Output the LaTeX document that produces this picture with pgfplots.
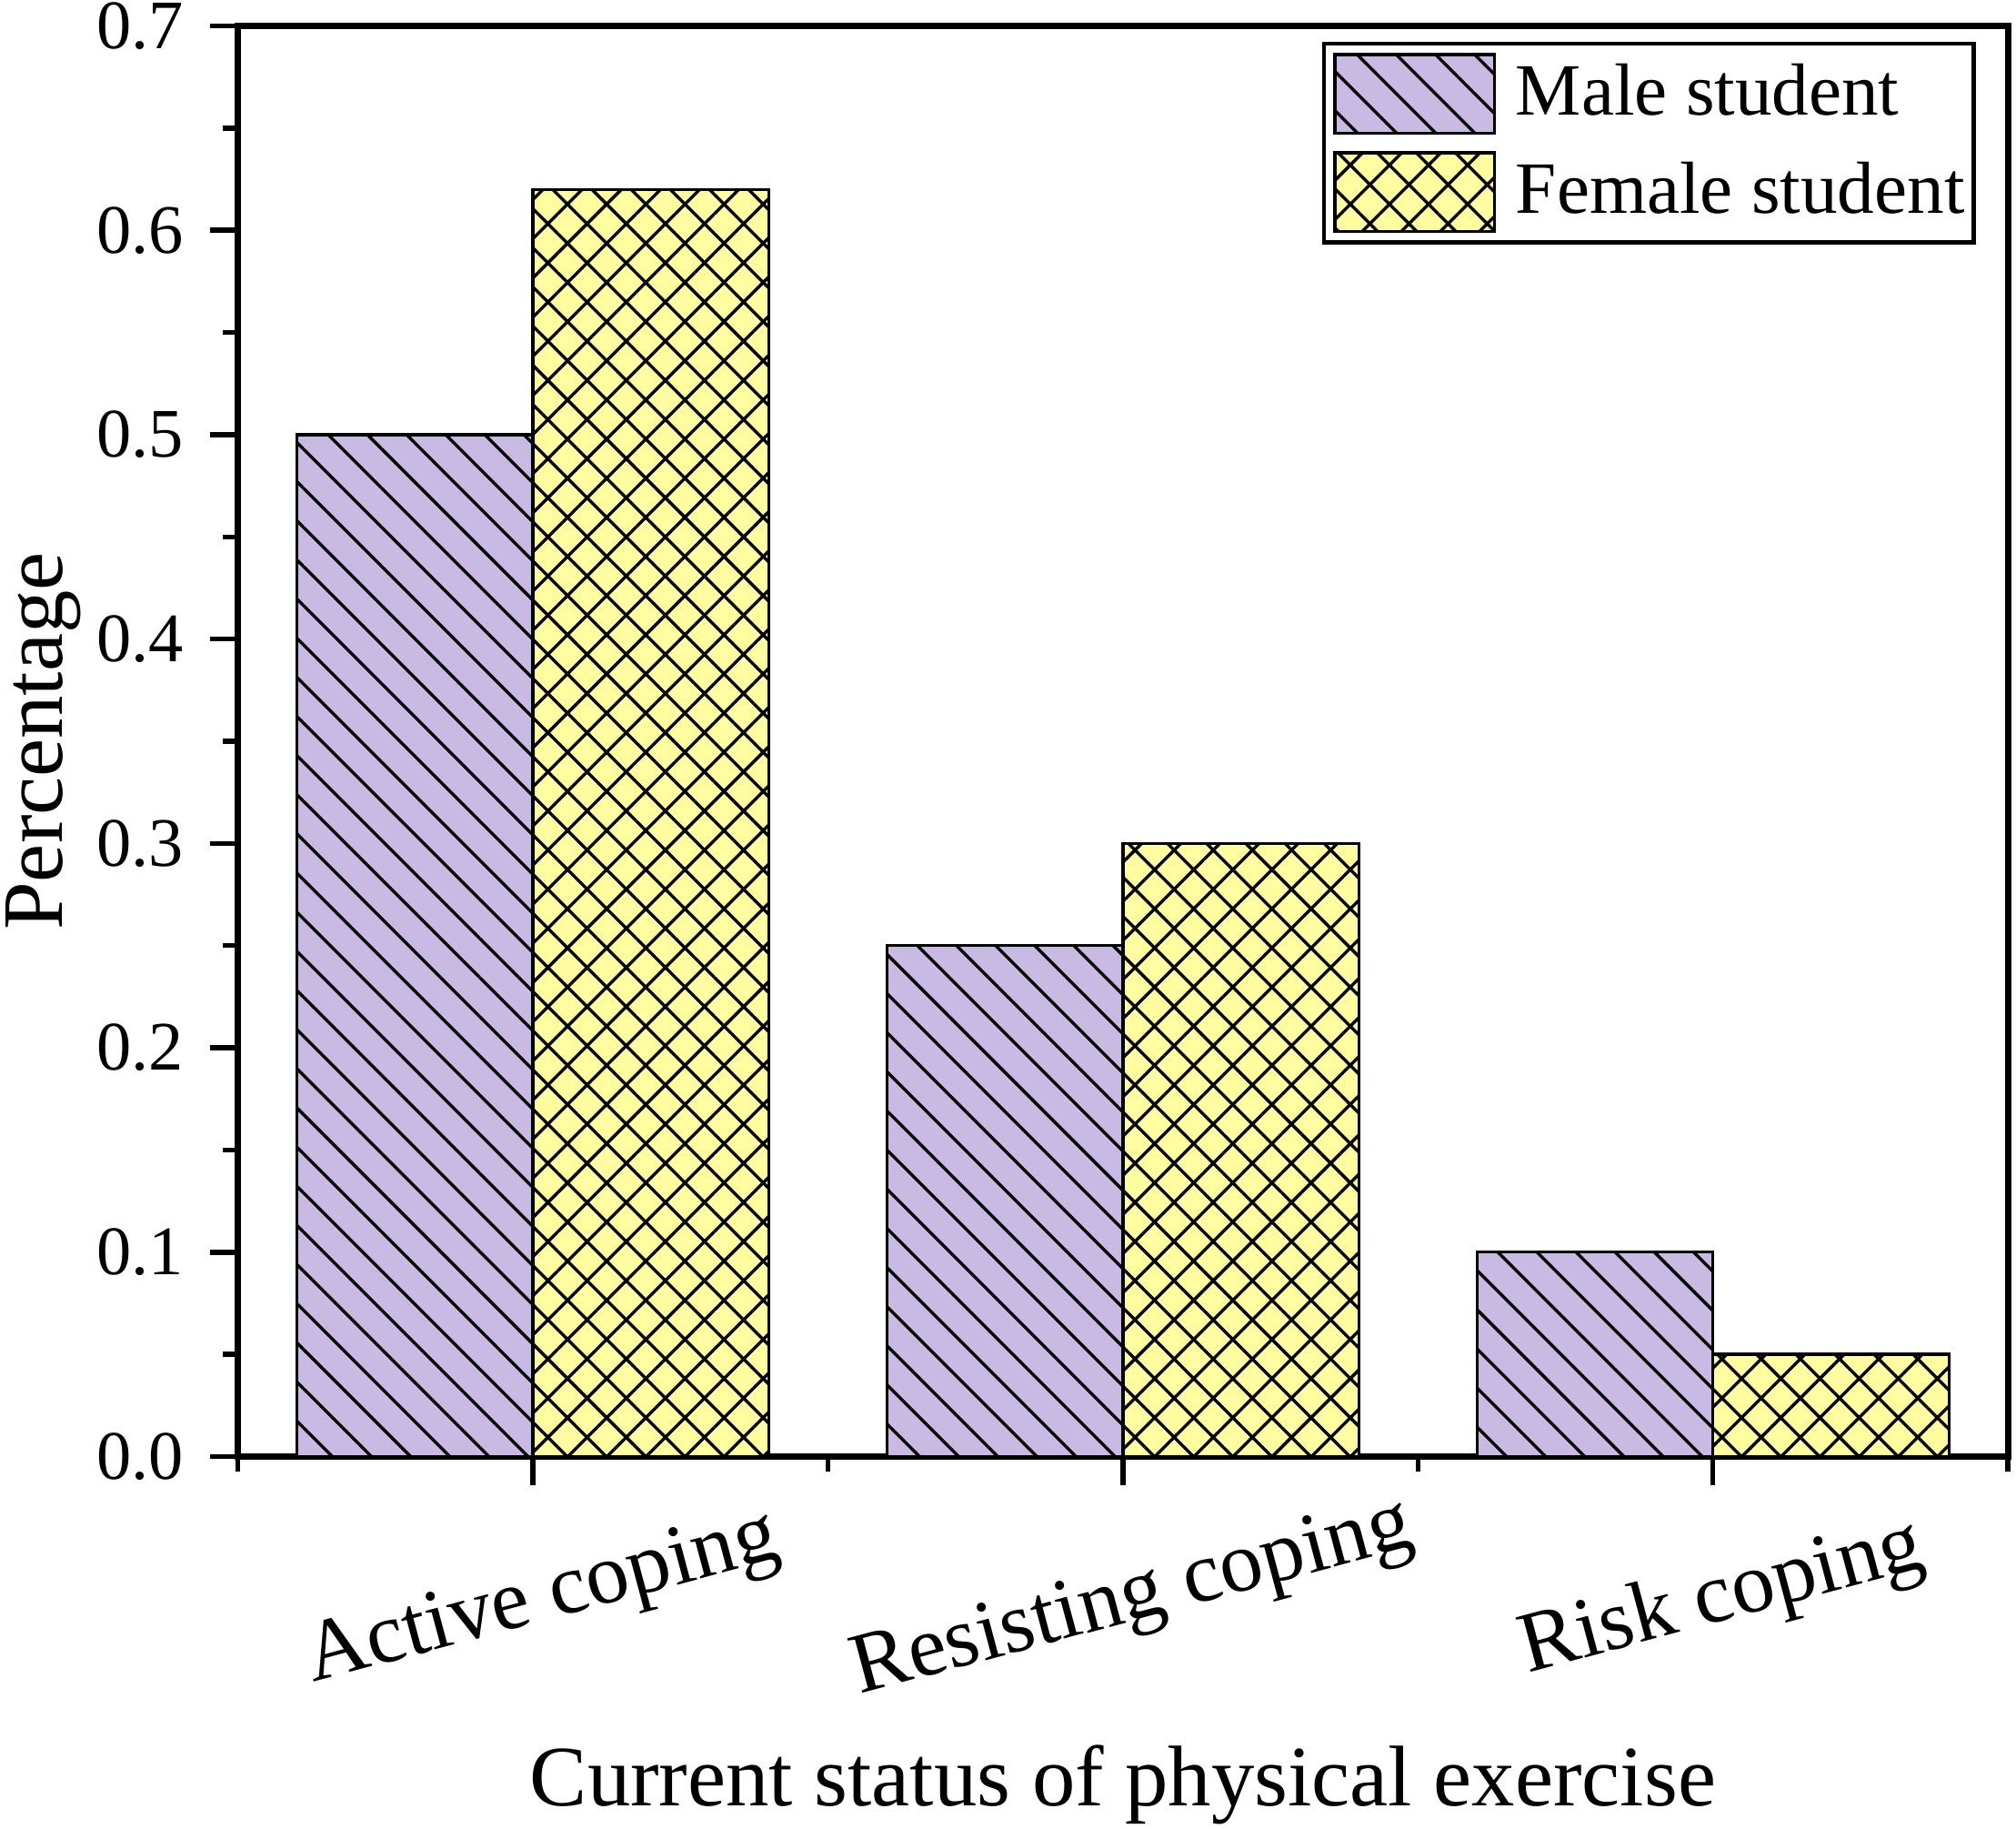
\documentclass[border=0pt]{standalone}
\usepackage{fontspec}
\setmainfont{Liberation Serif}
\usepackage{pgfplots}
\pgfplotsset{compat=1.18}
\usetikzlibrary{patterns.meta}
\definecolor{malec}{RGB}{200,186,226}
\definecolor{femalec}{RGB}{255,253,160}
\tikzset{
  malepat/.style={fill=malec, draw=black, line width=0.5pt,
    postaction={pattern={Lines[angle=-45,distance=4.5pt,line width=0.5pt]}}},
  femalepat/.style={fill=femalec, draw=black, line width=0.5pt,
    postaction={pattern={Hatch[angle=45,distance=4.5pt,line width=0.5pt]}}},
}
\begin{document}
\begin{tikzpicture}
\begin{axis}[
  scale only axis, width=287.8pt, height=232.6pt,
  xmin=-0.5, xmax=2.5, ymin=0, ymax=0.7,
  ybar, bar width=0.4,
  xtick={0,1,2},
  xticklabels={Active coping, Resisting coping, Risk coping},
  minor xtick={-0.5,0.5,1.5,2.5},
  ytick={0,0.1,0.2,0.3,0.4,0.5,0.6,0.7},
  minor ytick={0.05,0.15,0.25,0.35,0.45,0.55,0.65},
  /pgf/number format/fixed,
  /pgf/number format/fixed zerofill,
  /pgf/number format/precision=1,
  /pgf/number format/assume math mode=true,
  tick align=outside, xtick pos=bottom, ytick pos=left,
  major tick length=4.6pt, minor tick length=2.5pt,
  axis line style={line width=1pt},
  every tick/.append style={black, line width=0.8pt},
  every minor tick/.append style={black, line width=0.8pt},
  yticklabel style={font=\fontsize{11.3}{13}\selectfont, anchor=east, xshift=-0.7pt},
  xticklabel style={font=\fontsize{14}{16}\selectfont, xshift=2.4pt, yshift=-21.9pt, rotate=15, anchor=base},
  xlabel={Current status of physical exercise},
  ylabel={Percentage},
  every axis x label/.style={at={(axis description cs:0.5,0)}, anchor=base, yshift=-56.8pt, font=\fontsize{14}{16}\selectfont},
  every axis y label/.style={at={(axis description cs:-0.110,0.5)}, anchor=center, rotate=90, font=\fontsize{14}{16}\selectfont},
  legend cell align=left,
  legend style={at={(rel axis cs:0.982,0.989)}, anchor=north east, draw=black, line width=0.7pt,
    inner xsep=1.5pt, inner ysep=1.5pt, row sep=2.7pt, column sep=3.2pt,
    nodes={inner xsep=0pt, inner ysep=1pt},
    font=\fontsize{12}{13}\selectfont},
  legend image code/.code={\draw[#1] (0pt,-6.4pt) rectangle (26pt,6.4pt);},
]
\addplot[malepat, bar shift=-0.2] coordinates {(0,0.50) (1,0.25) (2,0.10)};
\addplot[femalepat, bar shift=0.2] coordinates {(0,0.62) (1,0.30) (2,0.05)};
\legend{Male student, Female student}
\end{axis}
\pgfresetboundingbox
\path[use as bounding box] (-38.7pt,-60.5pt) rectangle (289.1pt,236.8pt);
\end{tikzpicture}
\end{document}
